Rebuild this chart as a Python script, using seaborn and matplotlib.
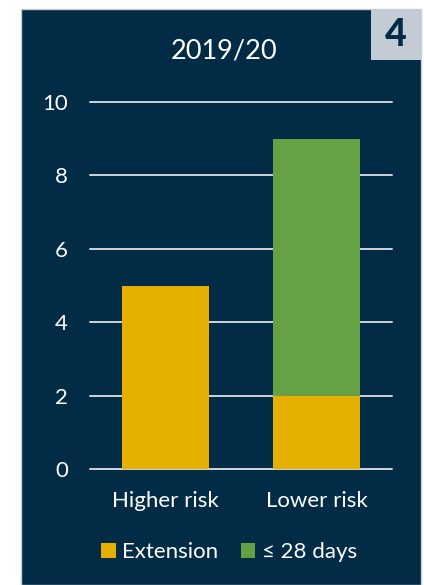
import matplotlib
matplotlib.use("Agg")
import matplotlib.pyplot as plt
from matplotlib.patches import Rectangle
import seaborn as sns
import pandas as pd

categories = ["Higher risk", "Lower risk"]
extension = [5, 2]
within_28_days = [0, 7]
y_ticks = [0, 2, 4, 6, 8, 10]
title = "2019/20"
panel_number = "4"
series_names = ["Extension", "\u2264 28 days"]

NAVY = "#022b45"
YELLOW = "#e6b000"
GREEN = "#65a246"
GRID = "#d0d4d8"
BADGE = "#c3ccd5"

sns.set_theme(style="white")
plt.rcParams["font.family"] = ["Lato", "DejaVu Sans"]

df = pd.DataFrame({
    "category": categories,
    "extension": extension,
    "total": [e + w for e, w in zip(extension, within_28_days)],
})

fig = plt.figure(figsize=(4.24, 5.85), dpi=100, facecolor="white")
# dark panel with thin grey right border
fig.patches.append(Rectangle((21 / 424, 0), 400 / 424, 1 - 9 / 585,
                             transform=fig.transFigure, facecolor=NAVY,
                             edgecolor="#c8cdd2", linewidth=1.0, zorder=-2))
# number badge
fig.patches.append(Rectangle((371 / 424, 1 - 60 / 585), 50 / 424, 51 / 585,
                             transform=fig.transFigure, facecolor=BADGE,
                             edgecolor="none", zorder=-1))
fig.text(396 / 424, 1 - 35 / 585, panel_number, ha="center", va="center",
         fontsize=27, fontweight="black", color=NAVY)

ax = fig.add_axes([90 / 424, 1 - 469 / 585, 302 / 424, 367 / 585])
ax.set_zorder(2)
ax.set_facecolor("none")

sns.barplot(data=df, x="category", y="total", color=GREEN, width=0.57,
            saturation=1, linewidth=0, ax=ax, zorder=2)
sns.barplot(data=df, x="category", y="extension", color=YELLOW, width=0.57,
            saturation=1, linewidth=0, ax=ax, zorder=3)

ax.set_xlim(-0.5, 1.5)
ax.set_ylim(0, 10)
ax.set_yticks(y_ticks)
for t in y_ticks:
    ax.axhline(t, color=GRID, linewidth=1.4, zorder=1, clip_on=False)
for s in ax.spines.values():
    s.set_visible(False)
ax.set_xlabel("")
ax.set_ylabel("")
ax.tick_params(axis="both", length=0, colors="white", labelsize=16)
ax.tick_params(axis="y", pad=16)
ax.tick_params(axis="x", pad=16)
ax.grid(False)

fig.text(224 / 424, 1 - 51 / 585, title, ha="center", va="center",
         fontsize=19.5, color="white")

handles = [Rectangle((0, 0), 1, 1, facecolor=YELLOW, edgecolor="none"),
           Rectangle((0, 0), 1, 1, facecolor=GREEN, edgecolor="none")]
fig.legend(handles, series_names, loc="center", bbox_to_anchor=(229 / 424, 1 - 552 / 585),
           ncol=2, frameon=False, fontsize=16, labelcolor="white",
           handlelength=0.65, handleheight=0.65, handletextpad=0.3,
           columnspacing=1.0)

fig.savefig("out.png", dpi=100, facecolor="white")
